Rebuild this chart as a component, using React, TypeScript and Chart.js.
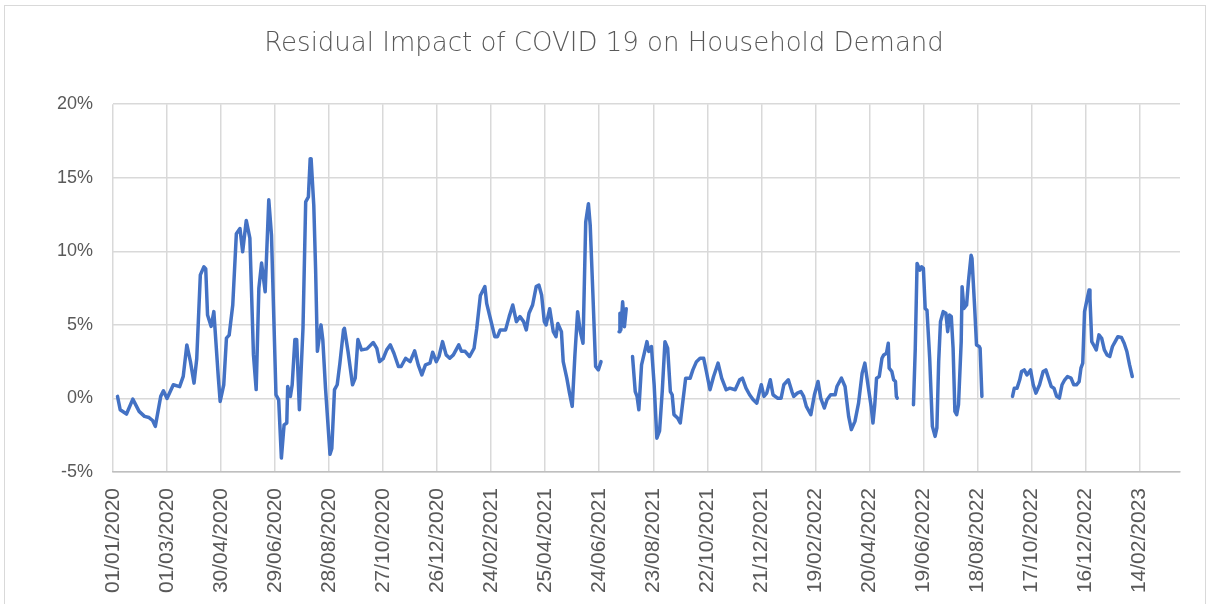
import React, { useEffect, useRef } from "react";
import { Chart, registerables } from "chart.js";

Chart.register(...registerables);

const chartTitle = "Residual Impact of COVID 19 on Household Demand";
const seriesLabel = "Residual impact";

// x tick labels (Excel date axis, major unit 60 days)
const tickDates = [
  "01/01/2020", "01/03/2020", "30/04/2020", "29/06/2020", "28/08/2020",
  "27/10/2020", "26/12/2020", "24/02/2021", "25/04/2021", "24/06/2021",
  "23/08/2021", "22/10/2021", "21/12/2021", "19/02/2022", "20/04/2022",
  "19/06/2022", "18/08/2022", "17/10/2022", "16/12/2022", "14/02/2023",
];
const axisStartDate = "01/01/2020";
const axisEndDays = 1185;

// y axis (percent)
const yMin = -5;
const yMax = 20;
const yStep = 5;

// days since 01/01/2020; null values are gaps in the series
const days = [
  5, 8, 15, 22, 29, 35, 40, 44, 47, 53, 56, 60, 67, 74, 78, 82, 86, 90, 93, 97,
  101, 103, 105, 109, 112, 117, 119, 123, 126, 129, 133, 137, 141, 144, 148, 152, 156, 159, 162, 165,
  169, 173, 176, 181, 184, 187, 190, 193, 194, 197, 199, 202, 204, 207, 211, 214, 217, 219, 220, 223,
  225, 227, 231, 233, 236, 241, 243, 246, 249, 252, 256, 257, 261, 266, 269, 272, 276, 282, 289, 293,
  296, 300, 304, 308, 312, 317, 320, 325, 330, 335, 339, 343, 347, 352, 355, 359, 362, 366, 370, 374,
  378, 384, 387, 391, 396, 401, 404, 408, 413, 415, 419, 424, 427, 430, 436, 440, 444, 448, 452, 456,
  459, 462, 466, 470, 473, 476, 479, 481, 485, 489, 492, 494, 498, 500, 504, 507, 510, 513, 516, 519,
  522, 525, 528, 530, 533, 536, 539, 542, 550,
  562, 563, 564, 566, 568, 570, 573,
  577, 580, 582, 584, 587, 590, 593, 595, 598, 601, 604, 607, 610, 613, 616, 619, 621, 623, 627, 630,
  632, 636, 641, 644, 648, 652, 656, 659, 663, 667, 672, 676, 681, 685, 691, 696, 699, 703, 707, 711,
  715, 718, 720, 723, 726, 730, 733, 738, 742, 745, 750, 754, 756, 760, 764, 767, 770, 775, 779, 783,
  786, 790, 793, 797, 802, 804, 809, 813, 817, 820, 824, 828, 832, 835, 839, 842, 844, 846, 848, 851,
  854, 856, 859, 861, 862, 865, 867, 869, 870, 871, 880,
  889, 891, 893, 896, 898, 900, 902, 904, 907, 910, 913, 915, 917, 919, 922, 925, 927, 929, 931, 933,
  935, 937, 939, 942, 943, 945, 948, 950, 953, 954, 957, 959, 962, 963, 965, 980,
  999, 1001, 1004, 1007, 1009, 1012, 1015, 1019, 1022, 1025, 1029, 1033, 1036, 1039, 1042, 1045, 1048, 1051, 1054, 1057,
  1060, 1064, 1067, 1070, 1073, 1075, 1077, 1079, 1082, 1084, 1085, 1087, 1090, 1092, 1095, 1098, 1101, 1104, 1107, 1110,
  1113, 1116, 1120, 1123, 1126, 1129, 1132,
];

const values = [
  0.14, -0.77, -1.06, -0.05, -0.88, -1.22, -1.3, -1.5, -1.9, 0.14, 0.52, 0.0, 0.93, 0.8, 1.5, 3.64, 2.5, 1.04, 2.7, 8.4,
  8.95, 8.8, 5.67, 4.9, 5.9, 1.4, -0.2, 0.93, 4.1, 4.3, 6.35, 11.2, 11.55, 9.97, 12.1, 10.9, 2.96, 0.6, 7.5, 9.2,
  7.25, 13.5, 11.1, 0.25, -0.1, -4.05, -1.8, -1.67, 0.81, 0.14, 0.93, 4.0, 4.0, -0.77, 4.77, 13.36, 13.7, 16.3, 16.3, 13.1,
  8.8, 3.2, 5.0, 4.0, 0.7, -3.8, -3.4, 0.6, 0.93, 2.4, 4.66, 4.77, 3.2, 0.93, 1.38, 4.0, 3.3, 3.37, 3.8, 3.4,
  2.5, 2.7, 3.3, 3.64, 3.07, 2.17, 2.17, 2.73, 2.5, 3.23, 2.28, 1.6, 2.28, 2.4, 3.14, 2.5, 2.85, 3.86, 2.96, 2.73,
  2.96, 3.64, 3.2, 3.2, 2.85, 3.41, 4.77, 7.0, 7.6, 6.46, 5.45, 4.2, 4.2, 4.66, 4.66, 5.56, 6.35, 5.22, 5.56, 5.22,
  4.66, 5.79, 6.35, 7.6, 7.7, 7.03, 5.22, 5.0, 6.1, 4.54, 4.2, 5.1, 4.54, 2.5, 1.38, 0.36, -0.54, 2.96, 5.9, 4.54,
  3.75, 12.0, 13.24, 11.77, 7.03, 2.17, 1.94, 2.5, null,
  4.54, 5.79, 4.66, 6.57, 4.88, 6.1, null,
  2.85, 0.47, 0.14, -0.77, 2.28, 3.07, 3.86, 3.19, 3.53, 0.93, -2.7, -2.2, 0.5, 3.86, 3.41, 0.47, 0.25, -1.1, -1.33, -1.67,
  -0.65, 1.38, 1.38, 1.94, 2.5, 2.73, 2.73, 1.83, 0.59, 1.49, 2.4, 1.38, 0.59, 0.7, 0.59, 1.27, 1.38, 0.7, 0.25, -0.09,
  -0.32, 0.47, 0.93, 0.14, 0.36, 1.27, 0.25, 0.02, 0.02, 0.93, 1.27, 0.47, 0.14, 0.36, 0.47, 0.14, -0.54, -1.1, 0.25, 1.15,
  0.02, -0.65, -0.09, 0.25, 0.25, 0.81, 1.38, 0.81, -1.22, -2.12, -1.56, -0.32, 1.72, 2.4, 0.7, -0.54, -1.67, -0.43, 1.38, 1.49,
  2.73, 2.96, 3.07, 3.75, 2.06, 1.83, 1.27, 1.15, 0.14, 0.02, null,
  -0.43, 3.41, 9.18, 8.72, 8.95, 8.84, 6.12, 6.0, 2.73, -1.9, -2.58, -2.0, 2.5, 5.22, 5.9, 5.79, 4.54, 5.67, 5.56, 3.41,
  -0.88, -1.1, -0.43, 3.86, 7.6, 6.12, 6.35, 7.93, 9.74, 9.51, 6.12, 3.64, 3.53, 3.41, 0.14, null,
  0.14, 0.7, 0.7, 1.27, 1.83, 1.94, 1.6, 1.94, 0.93, 0.36, 0.93, 1.83, 1.94, 1.38, 0.81, 0.7, 0.14, 0.02, 0.93, 1.27,
  1.49, 1.38, 0.93, 0.93, 1.15, 2.06, 2.4, 5.9, 6.8, 7.37, 6.8, 3.86, 3.53, 3.3, 4.32, 4.09, 3.3, 2.96, 2.85, 3.53,
  3.86, 4.2, 4.14, 3.75, 3.19, 2.28, 1.49,
];

const DAY_MS = 86400000;
function toUtc(s: string): number {
  const [d, m, y] = s.split("/").map(Number);
  return Date.UTC(y, m - 1, d);
}
function dayOf(s: string): number {
  return Math.round((toUtc(s) - toUtc(axisStartDate)) / DAY_MS);
}
const tickDays = tickDates.map(dayOf);

const W = 1208;
const H = 604;

export default function App() {
  const ref = useRef<HTMLCanvasElement | null>(null);

  useEffect(() => {
    const canvas = ref.current;
    if (!canvas) return;
    const points = days.map((d, i) => ({ x: d, y: values[i] }));
    const textColor = "#595959";
    const gridColor = "#d9d9d9";

    const chart = new Chart(canvas, {
      type: "line",
      data: {
        datasets: [
          {
            label: seriesLabel,
            data: points as any,
            borderColor: "#4472C4",
            backgroundColor: "#4472C4",
            borderWidth: 3.5,
            pointRadius: 0,
            pointHoverRadius: 0,
            tension: 0,
            spanGaps: false,
            borderJoinStyle: "round",
            borderCapStyle: "round",
          },
        ],
      },
      options: {
        animation: false,
        responsive: false,
        maintainAspectRatio: false,
        layout: { padding: { left: 28, right: 28, top: 0, bottom: 0 } },
        plugins: {
          legend: { display: false },
          tooltip: { enabled: false },
          title: {
            display: true,
            text: chartTitle,
            color: textColor,
            font: { family: "'DejaVu Sans', sans-serif", size: 26, weight: "200" as any, lineHeight: 1.2 },
            padding: { top: 29, bottom: 44 },
          },
        },
        scales: {
          x: {
            type: "linear",
            min: 0,
            max: axisEndDays,
            afterBuildTicks: (scale: any) => {
              scale.ticks = tickDays.map((v) => ({ value: v }));
            },
            afterFit: (scale: any) => {
              scale.height = H - 472;
            },
            grid: { color: gridColor, lineWidth: 1.5, drawTicks: false },
            border: { display: true, color: "#bfbfbf", width: 1.5 },
            ticks: {
              autoSkip: false,
              minRotation: 90,
              maxRotation: 90,
              padding: 16,
              color: textColor,
              font: { family: "'Liberation Sans', Arial, sans-serif", size: 21 },
              callback: (value: any) => {
                const idx = tickDays.indexOf(Number(value));
                return idx >= 0 ? tickDates[idx] : "";
              },
            },
          },
          y: {
            type: "linear",
            min: yMin,
            max: yMax,
            afterFit: (scale: any) => {
              scale.width = 113 - 28;
            },
            grid: { color: gridColor, lineWidth: 1.5, drawTicks: false },
            border: { display: false },
            ticks: {
              stepSize: yStep,
              padding: 20,
              color: textColor,
              font: { family: "'Liberation Sans', Arial, sans-serif", size: 18 },
              callback: (value: any) => `${value}%`,
            },
          },
        },
      },
    });
    return () => chart.destroy();
  }, []);

  return (
    <div
      style={{
        position: "fixed",
        left: 0,
        top: 0,
        width: W,
        height: H,
        overflow: "hidden",
        background: "#ffffff",
      }}
    >
      <div
        style={{
          position: "absolute",
          left: 4,
          top: 5,
          width: 1202,
          height: 700,
          border: "1px solid #d9d9d9",
          boxSizing: "border-box",
        }}
      />
      <canvas
        ref={ref}
        width={W}
        height={H}
        style={{ position: "absolute", left: 0, top: 0, width: W, height: H }}
      />
    </div>
  );
}
